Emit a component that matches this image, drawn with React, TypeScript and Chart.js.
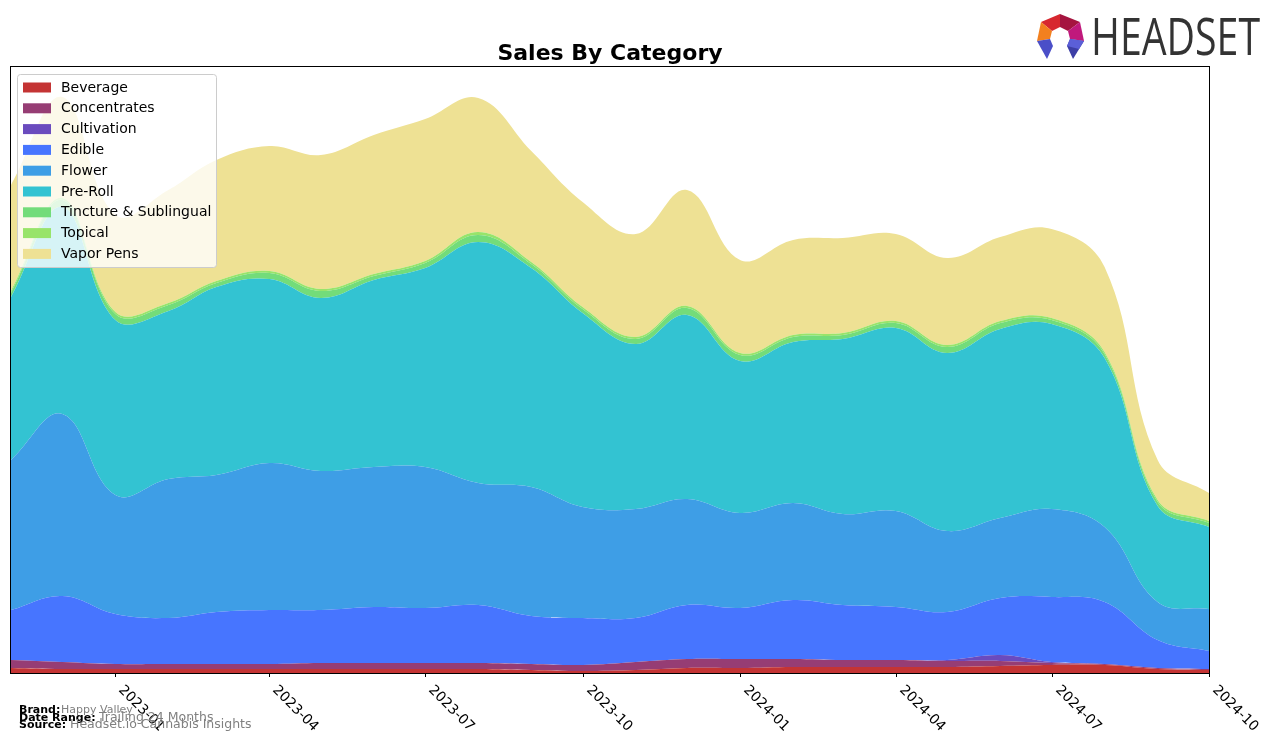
import React, { useEffect, useRef } from 'react';
import { Chart, registerables } from 'chart.js';

Chart.register(...registerables);

// ---------- data ----------
const months = [
  '2022-11', '2022-12', '2023-01', '2023-02', '2023-03', '2023-04', '2023-05', '2023-06',
  '2023-07', '2023-08', '2023-09', '2023-10', '2023-11', '2023-12', '2024-01', '2024-02',
  '2024-03', '2024-04', '2024-05', '2024-06', '2024-07', '2024-08', '2024-09', '2024-10',
];
const tickLabels = ['2023-01', '2023-04', '2023-07', '2023-10', '2024-01', '2024-04', '2024-07', '2024-10'];
const categories = [
  'Beverage', 'Concentrates', 'Cultivation', 'Edible', 'Flower', 'Pre-Roll',
  'Tincture & Sublingual', 'Topical', 'Vapor Pens',
];
const beverage = [5, 4, 4, 4, 4, 4, 4, 4, 4, 4, 3, 2, 3, 5, 5, 6, 6, 6, 6, 7, 8, 8, 4, 3];
const concentrates = [8, 7, 5, 5, 5, 5, 6, 6, 6, 6, 6, 6, 8, 9, 9, 8, 7, 7, 6, 5, 2, 1, 1, 1];
const cultivation = [0, 0, 0, 0, 0, 0, 0, 0, 0, 0, 0, 0, 0, 0, 0, 0, 0, 0, 1, 6, 1, 0, 0, 0];
const edible = [50, 66, 50, 46, 52, 54, 53, 56, 55, 58, 48, 47, 44, 54, 51, 59, 55, 53, 48, 57, 65, 62, 28, 18];
const flower = [150, 182, 119, 139, 137, 147, 139, 140, 141, 122, 129, 111, 109, 106, 95, 97, 91, 96, 81, 80, 88, 75, 38, 42];
const preRoll = [163, 207, 175, 168, 188, 184, 173, 187, 199, 241, 219, 194, 165, 184, 152, 161, 175, 183, 178, 189, 185, 169, 96, 82];
const tincture = [4, 7, 6, 6, 4, 6, 7, 4, 5, 7, 4, 4, 5, 7, 6, 5, 4, 5, 6, 6, 4, 4, 4, 4];
const topical = [2, 2, 2, 2, 2, 2, 2, 2, 2, 3, 2, 2, 2, 2, 2, 2, 2, 2, 2, 2, 2, 2, 2, 2];
const vaporPens = [106, 101, 97, 113, 121, 125, 134, 139, 142, 134, 111, 105, 103, 116, 93, 95, 95, 87, 87, 84, 89, 85, 40, 28];

const seriesValues = [beverage, concentrates, cultivation, edible, flower, preRoll, tincture, topical, vaporPens];

// ---------- styles ----------
const colors = [
  'rgb(196,52,52)', 'rgb(150,61,116)', 'rgb(106,75,190)', 'rgb(71,117,255)', 'rgb(62,158,230)',
  'rgb(51,195,210)', 'rgb(115,220,122)', 'rgb(152,228,106)', 'rgb(238,225,148)',
];
const W = 1276;
const H = 743;
const AREA = { left: 11, top: 67, right: 1209, bottom: 673 };
const FONT = '"DejaVu Sans", sans-serif';

const dayOf = (m: string) => {
  const [y, mo] = m.split('-').map(Number);
  return (Date.UTC(y, mo - 1, 1) - Date.UTC(2022, 10, 1)) / 86400000;
};

function drawLogo(ctx: CanvasRenderingContext2D) {
  const poly = (pts: number[][], c: string) => {
    ctx.beginPath();
    ctx.moveTo(pts[0][0], pts[0][1]);
    for (let i = 1; i < pts.length; i++) ctx.lineTo(pts[i][0], pts[i][1]);
    ctx.closePath();
    ctx.fillStyle = c;
    ctx.fill();
  };
  const P0 = [1060, 14], P1 = [1080, 22], P2 = [1084, 41], P3 = [1073, 59];
  const P5 = [1037, 41], P6 = [1041, 22], L = [1047, 59];
  const I0 = [1060, 27], I1 = [1068, 31], I2 = [1070, 39], I3 = [1067, 46];
  const I5 = [1050, 39], I6 = [1052, 31], I4 = [1053, 46];
  poly([P6, P0, I0, I6], '#d7282f');
  poly([P0, P1, I1, I0], '#a5143f');
  poly([P1, P2, I2, I1], '#c0197c');
  poly([P2, P3, I3, I2], '#3d3fa6');
  poly([P2, [1079, 49], I3, I2], '#5b5fd8');
  poly([P6, P5, I5, I6], '#f2801f');
  poly([P5, L, I4, I5], '#4b4fc8');
  ctx.save();
  ctx.font = `52px "Open Sans", "DejaVu Sans", sans-serif`;
  ctx.fillStyle = '#333333';
  ctx.textBaseline = 'alphabetic';
  const w = ctx.measureText('HEADSET').width;
  ctx.translate(1091, 55);
  ctx.scale(169 / w, 1);
  ctx.fillText('HEADSET', 0, 0);
  ctx.restore();
}

const overlayPlugin = {
  id: 'overlay',
  afterDraw(chart: any) {
    const ctx: CanvasRenderingContext2D = chart.ctx;
    const xs = chart.scales.x;
    const ca = chart.chartArea;
    ctx.save();
    // frame
    ctx.strokeStyle = '#000';
    ctx.lineWidth = 1;
    ctx.strokeRect(ca.left - 0.5, ca.top - 0.5, ca.right - ca.left + 1, ca.bottom - ca.top + 1);
    // ticks + rotated labels
    ctx.fillStyle = '#000';
    ctx.font = `14px ${FONT}`;
    ctx.textBaseline = 'top';
    ctx.textAlign = 'left';
    for (const lab of tickLabels) {
      const px = Math.round(xs.getPixelForValue(dayOf(lab))) + 0.5;
      ctx.beginPath();
      ctx.moveTo(px, ca.bottom);
      ctx.lineTo(px, ca.bottom + 4);
      ctx.stroke();
      ctx.save();
      ctx.translate(px + 10, ca.bottom + 10);
      ctx.rotate(Math.PI / 4);
      ctx.fillText(lab, 0, 0);
      ctx.restore();
    }
    // title
    ctx.font = `bold 22px ${FONT}`;
    ctx.textAlign = 'center';
    ctx.textBaseline = 'alphabetic';
    ctx.fillText('Sales By Category', (ca.left + ca.right) / 2, 60);
    // legend
    ctx.beginPath();
    (ctx as any).roundRect(17.5, 74.5, 199, 193, 3);
    ctx.fillStyle = 'rgba(255,255,255,0.8)';
    ctx.fill();
    ctx.strokeStyle = '#cccccc';
    ctx.stroke();
    ctx.font = `14px ${FONT}`;
    ctx.textAlign = 'left';
    ctx.textBaseline = 'middle';
    categories.forEach((name, i) => {
      const cy = 87.5 + i * 20.8;
      ctx.fillStyle = colors[i];
      ctx.fillRect(23, cy - 5, 28, 10);
      ctx.fillStyle = '#000';
      ctx.fillText(name, 61, cy + 0.5);
    });
    // footer
    ctx.textBaseline = 'alphabetic';
    const foot = (label: string, lsize: number, value: string, vsize: number, vx: number, y: number) => {
      ctx.fillStyle = '#000';
      ctx.font = `bold ${lsize}px ${FONT}`;
      ctx.fillText(label, 19, y);
      ctx.fillStyle = '#808080';
      ctx.font = `${vsize}px ${FONT}`;
      ctx.fillText(value, vx, y);
    };
    foot('Brand:', 11, 'Happy Valley', 11, 61, 713);
    foot('Date Range:', 11, 'Trailing 24 Months', 12.5, 99, 721);
    foot('Source:', 11, 'Headset.io Cannabis Insights', 12.5, 70, 728);
    drawLogo(ctx);
    ctx.restore();
  },
};

export default function App() {
  const ref = useRef<HTMLCanvasElement | null>(null);
  useEffect(() => {
    document.body.style.margin = '0';
    const canvas = ref.current;
    if (!canvas) return;
    const datasets = categories.map((name, i) => ({
      label: name,
      data: months.map((m, j) => ({ x: dayOf(m), y: seriesValues[i][j] })),
      backgroundColor: colors[i],
      borderColor: 'rgba(0,0,0,0)',
      borderWidth: 0,
      pointRadius: 0,
      pointHoverRadius: 0,
      tension: 0.4,
      fill: i === 0 ? 'origin' : '-1',
    }));
    const chart = new Chart(canvas, {
      type: 'line',
      data: { datasets },
      options: {
        animation: false,
        responsive: false,
        devicePixelRatio: 1,
        events: [],
        layout: {
          padding: { left: AREA.left, top: AREA.top, right: W - AREA.right, bottom: H - AREA.bottom },
        },
        scales: {
          x: { type: 'linear', display: false, min: 0, max: dayOf(months[months.length - 1]) },
          y: { display: false, stacked: true, min: 0, max: AREA.bottom - AREA.top },
        },
        plugins: { legend: { display: false }, title: { display: false }, tooltip: { enabled: false } },
      },
      plugins: [overlayPlugin],
    });
    return () => chart.destroy();
  }, []);
  return (
    <div style={{ width: W, height: H, background: '#fff' }}>
      <canvas ref={ref} width={W} height={H} style={{ width: W, height: H, display: 'block' }} />
    </div>
  );
}
